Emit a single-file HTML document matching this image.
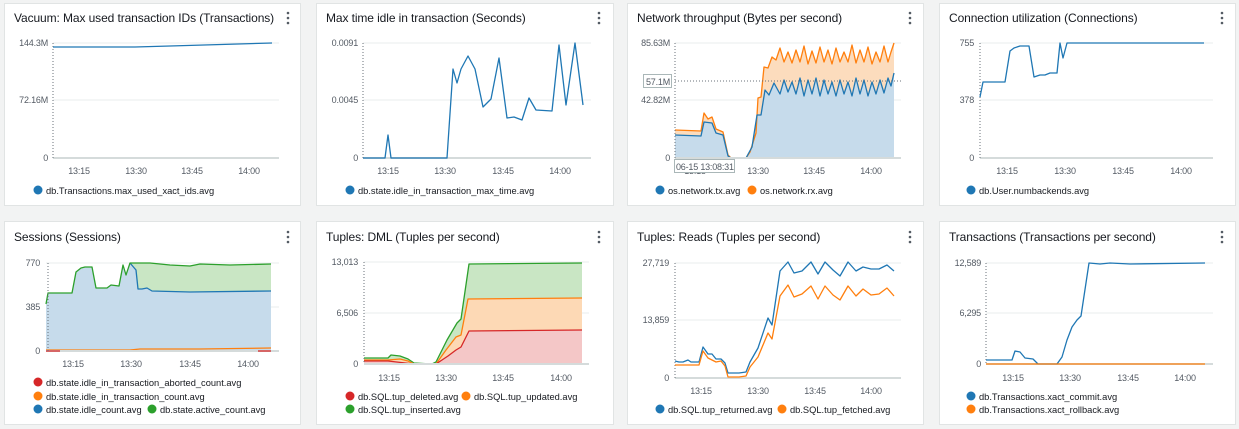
<!DOCTYPE html>
<html><head><meta charset="utf-8"><style>
body{margin:0;background:#f2f3f3;}
svg{display:block;font-family:"Liberation Sans",sans-serif;}
.t{font-size:12px;fill:#16191f;letter-spacing:-0.1px}
.a{font-size:9px;fill:#545b64;letter-spacing:-0.2px}
.l{font-size:9.3px;fill:#16191f}
.g{stroke:#eaeded;stroke-width:1}
.b{stroke:#d5dbdb;stroke-width:2}
.v{stroke:#687078;stroke-width:1;stroke-dasharray:1 2}
.ln{fill:none;stroke-width:1.3;stroke-linejoin:round}
</style></head><body>
<svg width="1239" height="429" viewBox="0 0 1239 429">
<rect width="1239" height="429" fill="#f2f3f3"/>
<g fill="#fff" stroke="#e1e4e4">
<rect x="4.5" y="3.5" width="296" height="202"/>
<rect x="316.5" y="3.5" width="297" height="202"/>
<rect x="627.5" y="3.5" width="296" height="202"/>
<rect x="939.5" y="3.5" width="296" height="202"/>
<rect x="4.5" y="221.5" width="296" height="203"/>
<rect x="316.5" y="221.5" width="297" height="203"/>
<rect x="627.5" y="221.5" width="296" height="203"/>
<rect x="939.5" y="221.5" width="296" height="203"/>
</g>
<g class="t">
<text x="14" y="22">Vacuum: Max used transaction IDs (Transactions)</text>
<text x="326" y="22">Max time idle in transaction (Seconds)</text>
<text x="637" y="22">Network throughput (Bytes per second)</text>
<text x="949" y="22">Connection utilization (Connections)</text>
<text x="14" y="241">Sessions (Sessions)</text>
<text x="326" y="241">Tuples: DML (Tuples per second)</text>
<text x="637" y="241">Tuples: Reads (Tuples per second)</text>
<text x="949" y="241">Transactions (Transactions per second)</text>
</g>
<g fill="#545b64">
<circle cx="288" cy="13" r="1.3"/><circle cx="288" cy="18" r="1.3"/><circle cx="288" cy="23" r="1.3"/>
<circle cx="599" cy="13" r="1.3"/><circle cx="599" cy="18" r="1.3"/><circle cx="599" cy="23" r="1.3"/>
<circle cx="910" cy="13" r="1.3"/><circle cx="910" cy="18" r="1.3"/><circle cx="910" cy="23" r="1.3"/>
<circle cx="1222" cy="13" r="1.3"/><circle cx="1222" cy="18" r="1.3"/><circle cx="1222" cy="23" r="1.3"/>
<circle cx="288" cy="232" r="1.3"/><circle cx="288" cy="237" r="1.3"/><circle cx="288" cy="242" r="1.3"/>
<circle cx="599" cy="232" r="1.3"/><circle cx="599" cy="237" r="1.3"/><circle cx="599" cy="242" r="1.3"/>
<circle cx="910" cy="232" r="1.3"/><circle cx="910" cy="237" r="1.3"/><circle cx="910" cy="242" r="1.3"/>
<circle cx="1222" cy="232" r="1.3"/><circle cx="1222" cy="237" r="1.3"/><circle cx="1222" cy="242" r="1.3"/>
</g>

<!-- Panel 1 -->
<line class="g" x1="53" y1="43" x2="279" y2="43"/><line class="g" x1="53" y1="100" x2="279" y2="100"/>
<line class="b" x1="53" y1="158" x2="279" y2="158"/><line class="v" x1="53" y1="43" x2="53" y2="158"/>
<g class="a" text-anchor="end"><text x="48" y="46">144.3M</text><text x="48" y="103">72.16M</text><text x="48" y="161">0</text></g>
<g class="a" text-anchor="middle"><text x="79" y="174">13:15</text><text x="136" y="174">13:30</text><text x="192" y="174">13:45</text><text x="249" y="174">14:00</text></g>
<polyline class="ln" stroke="#1f77b4" points="53,47 135,47 170,46 272,43"/>
<circle cx="38" cy="190" r="4.5" fill="#1f77b4"/><text class="l" x="46" y="194">db.Transactions.max_used_xact_ids.avg</text>

<!-- Panel 2 -->
<line class="g" x1="363" y1="43" x2="591" y2="43"/><line class="g" x1="363" y1="100" x2="591" y2="100"/>
<line class="b" x1="363" y1="158" x2="591" y2="158"/><line class="v" x1="363" y1="43" x2="363" y2="158"/>
<g class="a" text-anchor="end"><text x="358" y="46">0.0091</text><text x="358" y="103">0.0045</text><text x="358" y="161">0</text></g>
<g class="a" text-anchor="middle"><text x="388" y="174">13:15</text><text x="445" y="174">13:30</text><text x="503" y="174">13:45</text><text x="560" y="174">14:00</text></g>
<polyline class="ln" stroke="#1f77b4" points="363,158 385,158 388,135 391,158 447,158 453,69 457,83 461,69 468,56 475,69 483,107 491,99 499,58 507,118 514,117 522,120 529,98 536,110 552,111 559,45 566,105 575,43 583,105"/>
<circle cx="350" cy="190" r="4.5" fill="#1f77b4"/><text class="l" x="358" y="194">db.state.idle_in_transaction_max_time.avg</text>

<!-- Panel 3 -->
<line class="g" x1="675" y1="43" x2="901" y2="43"/><line class="g" x1="675" y1="100" x2="901" y2="100"/>
<polygon fill="#fcdcbd" points="675,130 701,131 704,113 708,119 712,117 716,129 723,132 728,155 731,158 746,158 750,152 756,133 758,98 761,97 764,67 768,68 772,57 776,60 780,48 784,62 788,52 792,63 796,50 800,62 804,46 808,64 812,51 816,63 820,47 824,62 828,50 832,64 836,48 840,62 844,52 848,62 852,45 856,63 860,50 864,62 868,47 872,64 876,52 880,62 884,46 888,62 891,52 894,43 894,73 891,86 888,78 884,93 880,80 876,94 872,82 868,96 864,80 860,94 856,78 852,96 848,82 844,94 840,80 836,96 832,82 828,94 824,80 820,96 816,78 812,94 808,80 804,96 800,78 796,94 792,82 788,92 784,80 780,94 774,83 769,95 765,90 761,115 757,115 752,147 746,158 731,158 728,156 723,135 716,133 712,123 704,122 701,136 675,135"/>
<polygon fill="#c6dbeb" points="675,135 701,136 704,122 712,123 716,133 723,135 728,156 731,158 746,158 752,147 757,115 761,115 765,90 769,95 774,83 780,94 784,80 788,92 792,82 796,94 800,78 804,96 808,80 812,94 816,78 820,96 824,80 828,94 832,82 836,96 840,80 844,94 848,82 852,96 856,78 860,94 864,80 868,96 872,82 876,94 880,80 884,93 888,78 891,86 894,73 894,158 675,158"/>
<polyline class="ln" stroke="#ff7f0e" points="675,130 701,131 704,113 708,119 712,117 716,129 723,132 728,155 731,158 746,158 750,152 756,133 758,98 761,97 764,67 768,68 772,57 776,60 780,48 784,62 788,52 792,63 796,50 800,62 804,46 808,64 812,51 816,63 820,47 824,62 828,50 832,64 836,48 840,62 844,52 848,62 852,45 856,63 860,50 864,62 868,47 872,64 876,52 880,62 884,46 888,62 891,52 894,43"/>
<polyline class="ln" stroke="#1f77b4" points="675,135 701,136 704,122 712,123 716,133 723,135 728,156 731,158 746,158 752,147 757,115 761,115 765,90 769,95 774,83 780,94 784,80 788,92 792,82 796,94 800,78 804,96 808,80 812,94 816,78 820,96 824,80 828,94 832,82 836,96 840,80 844,94 848,82 852,96 856,78 860,94 864,80 868,96 872,82 876,94 880,80 884,93 888,78 891,86 894,73"/>
<line class="b" x1="675" y1="158" x2="901" y2="158"/><line class="v" x1="675" y1="43" x2="675" y2="158"/>
<line class="v" x1="675" y1="81" x2="901" y2="81"/>
<g class="a" text-anchor="end"><text x="670" y="46">85.63M</text><text x="670" y="103">42.82M</text><text x="670" y="161">0</text></g>
<rect x="643.5" y="74.5" width="28" height="13" fill="#fff" stroke="#aab7b8"/><text class="a" x="646" y="85">57.1M</text>
<g class="a" text-anchor="middle"><text x="695" y="174">13:15</text><text x="758" y="174">13:30</text><text x="814" y="174">13:45</text><text x="871" y="174">14:00</text></g>
<rect x="674.5" y="159.5" width="60" height="13" fill="#fff" stroke="#aab7b8"/><text class="a" x="676" y="170">06-15 13:08:31</text>
<circle cx="660" cy="190" r="4.5" fill="#1f77b4"/><text class="l" x="668" y="194">os.network.tx.avg</text>
<circle cx="752" cy="190" r="4.5" fill="#ff7f0e"/><text class="l" x="760" y="194">os.network.rx.avg</text>

<!-- Panel 4 -->
<line class="g" x1="980" y1="43" x2="1213" y2="43"/><line class="g" x1="980" y1="100" x2="1213" y2="100"/>
<line class="b" x1="980" y1="158" x2="1213" y2="158"/><line class="v" x1="980" y1="43" x2="980" y2="158"/>
<g class="a" text-anchor="end"><text x="974" y="46">755</text><text x="974" y="103">378</text><text x="974" y="161">0</text></g>
<g class="a" text-anchor="middle"><text x="1007" y="174">13:15</text><text x="1065" y="174">13:30</text><text x="1123" y="174">13:45</text><text x="1181" y="174">14:00</text></g>
<polyline class="ln" stroke="#1f77b4" points="980,97 983,82 1005,82 1010,51 1014,48 1020,46 1029,46 1034,77 1040,75 1045,75 1050,73 1057,73 1060,43 1063,58 1067,43 1204,43"/>
<circle cx="971" cy="190" r="4.5" fill="#1f77b4"/><text class="l" x="979" y="194">db.User.numbackends.avg</text>

<!-- Panel 5 -->
<line class="g" x1="46" y1="263" x2="279" y2="263"/><line class="g" x1="46" y1="307" x2="279" y2="307"/>
<polygon fill="#c9e6c4" points="130,263 150,263 170,265 190,266 200,264 230,265 271,264 271,291 190,292 152,291 147,288 142,289 138,289 136,270"/>
<polygon fill="#c6dbeb" points="46,304 48,293 72,293 76,272 81,268 85,267 92,267 96,288 107,288 111,285 119,286 123,265 126,275 130,263 136,270 138,289 142,289 147,288 152,291 190,292 271,291 271,351 46,351"/>
<polyline class="ln" stroke="#1f77b4" points="130,263 136,270 138,289 142,289 147,288 152,291 190,292 271,291"/>
<polyline class="ln" stroke="#2ca02c" points="46,304 48,293 72,293 76,272 81,268 85,267 92,267 96,288 107,288 111,285 119,286 123,265 126,275 130,263 150,263 170,265 190,266 200,264 230,265 271,264"/>
<polyline class="ln" stroke="#ff7f0e" points="46,350 130,350 140,349 170,349 200,349 271,348"/>
<line class="b" x1="46" y1="351" x2="279" y2="351"/>
<polyline class="ln" stroke="#d62728" stroke-width="2" points="46,351 60,351"/><polyline class="ln" stroke="#d62728" stroke-width="2" points="258,351 271,351"/>
<line class="v" x1="48" y1="263" x2="48" y2="351"/>
<g class="a" text-anchor="end"><text x="40" y="266">770</text><text x="40" y="310">385</text><text x="40" y="354">0</text></g>
<g class="a" text-anchor="middle"><text x="73" y="367">13:15</text><text x="131" y="367">13:30</text><text x="190" y="367">13:45</text><text x="248" y="367">14:00</text></g>
<circle cx="38" cy="382" r="4.5" fill="#d62728"/><text class="l" x="46" y="386">db.state.idle_in_transaction_aborted_count.avg</text>
<circle cx="38" cy="396" r="4.5" fill="#ff7f0e"/><text class="l" x="46" y="400">db.state.idle_in_transaction_count.avg</text>
<circle cx="38" cy="409" r="4.5" fill="#1f77b4"/><text class="l" x="46" y="413">db.state.idle_count.avg</text>
<circle cx="152" cy="409" r="4.5" fill="#2ca02c"/><text class="l" x="160" y="413">db.state.active_count.avg</text>

<!-- Panel 6 -->
<line class="g" x1="364" y1="262" x2="589" y2="262"/><line class="g" x1="364" y1="313" x2="589" y2="313"/>
<polygon fill="#c9e6c4" points="364,358 388,358 391,355 400,356 408,359 414,363 432,364 436,362 441,352 447,340 457,323 461,319 469,264 582,263 582,298 468,299 461,335 456,337 446,350 436,364 414,364 408,361 400,359 388,360 364,360"/>
<polygon fill="#fdd9b5" points="364,360 388,360 400,359 408,361 414,364 436,364 446,350 456,337 461,335 468,299 582,298 582,330 469,331 461,347 456,350 448,356 436,364 414,364 388,361 364,361"/>
<polygon fill="#f4c7c7" points="364,361 388,361 414,364 436,364 448,356 456,350 461,347 469,331 582,330 582,364 364,364"/>
<polyline class="ln" stroke="#2ca02c" points="364,358 388,358 391,355 400,356 408,359 414,363 432,364 436,362 441,352 447,340 457,323 461,319 469,264 582,263"/>
<polyline class="ln" stroke="#ff7f0e" points="364,360 388,360 400,359 408,361 414,364 436,364 446,350 456,337 461,335 468,299 582,298"/>
<polyline class="ln" stroke="#d62728" points="364,361 388,361 414,364 436,364 448,356 456,350 461,347 469,331 582,330"/>
<line class="b" x1="364" y1="364" x2="589" y2="364"/><line class="v" x1="364" y1="262" x2="364" y2="364"/>
<g class="a" text-anchor="end"><text x="358" y="265">13,013</text><text x="358" y="316">6,506</text><text x="358" y="367">0</text></g>
<g class="a" text-anchor="middle"><text x="389" y="381">13:15</text><text x="446" y="381">13:30</text><text x="503" y="381">13:45</text><text x="561" y="381">14:00</text></g>
<circle cx="350" cy="396" r="4.5" fill="#d62728"/><text class="l" x="358" y="400">db.SQL.tup_deleted.avg</text>
<circle cx="466" cy="396" r="4.5" fill="#ff7f0e"/><text class="l" x="474" y="400">db.SQL.tup_updated.avg</text>
<circle cx="350" cy="409" r="4.5" fill="#2ca02c"/><text class="l" x="358" y="413">db.SQL.tup_inserted.avg</text>

<!-- Panel 7 -->
<line class="g" x1="675" y1="263" x2="901" y2="263"/><line class="g" x1="675" y1="320" x2="901" y2="320"/>
<line class="b" x1="675" y1="378" x2="901" y2="378"/><line class="v" x1="675" y1="263" x2="675" y2="378"/>
<polyline class="ln" stroke="#1f77b4" points="675,361 679,362 683,362 688,360 691,362 699,362 703,347 708,354 712,354 716,359 721,359 725,363 728,373 739,373 746,372 750,362 758,348 768,318 772,325 780,271 788,262 794,273 802,271 811,262 818,274 825,262 833,270 840,276 848,262 856,271 863,267 871,269 879,269 887,265 894,271"/>
<polyline class="ln" stroke="#ff7f0e" points="675,365 699,365 703,351 708,358 716,362 721,361 725,366 728,377 739,377 746,376 750,367 758,357 768,333 772,339 780,296 788,285 794,297 802,294 811,286 818,299 825,286 833,295 840,300 848,286 856,296 863,289 871,295 879,294 887,288 894,296"/>
<g class="a" text-anchor="end"><text x="669" y="266">27,719</text><text x="669" y="323">13,859</text><text x="669" y="381">0</text></g>
<g class="a" text-anchor="middle"><text x="701" y="394">13:15</text><text x="758" y="394">13:30</text><text x="815" y="394">13:45</text><text x="871" y="394">14:00</text></g>
<circle cx="660" cy="409" r="4.5" fill="#1f77b4"/><text class="l" x="668" y="413">db.SQL.tup_returned.avg</text>
<circle cx="782" cy="409" r="4.5" fill="#ff7f0e"/><text class="l" x="790" y="413">db.SQL.tup_fetched.avg</text>

<!-- Panel 8 -->
<line class="g" x1="986" y1="263" x2="1213" y2="263"/><line class="g" x1="986" y1="313" x2="1213" y2="313"/>
<line class="b" x1="986" y1="364" x2="1213" y2="364"/><line class="v" x1="986" y1="263" x2="986" y2="364"/>
<polyline class="ln" stroke="#1f77b4" points="986,360 1012,360 1015,351 1020,352 1025,358 1033,359 1038,364 1057,364 1062,357 1067,340 1072,327 1077,320 1081,316 1089,263 1100,264 1110,263 1130,264 1205,263"/>
<polyline class="ln" stroke="#ff7f0e" points="986,364 1205,364"/>
<g class="a" text-anchor="end"><text x="981" y="266">12,589</text><text x="981" y="316">6,295</text><text x="981" y="367">0</text></g>
<g class="a" text-anchor="middle"><text x="1013" y="381">13:15</text><text x="1070" y="381">13:30</text><text x="1128" y="381">13:45</text><text x="1185" y="381">14:00</text></g>
<circle cx="971" cy="396" r="4.5" fill="#1f77b4"/><text class="l" x="979" y="400">db.Transactions.xact_commit.avg</text>
<circle cx="971" cy="409" r="4.5" fill="#ff7f0e"/><text class="l" x="979" y="413">db.Transactions.xact_rollback.avg</text>
</svg>
</body></html>
